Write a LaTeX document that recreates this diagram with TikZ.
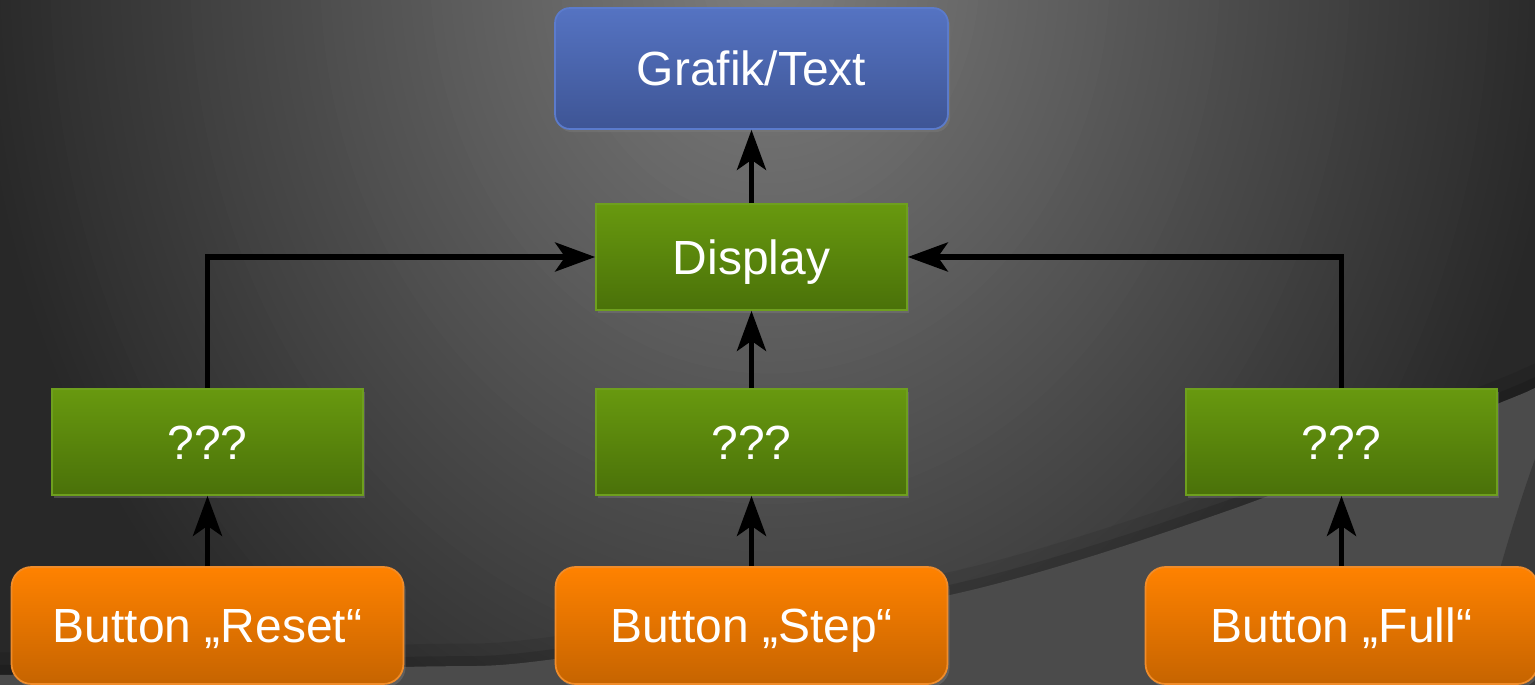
\documentclass[tikz,border=0pt]{standalone}
\usepackage{fontspec}
\setmainfont{Liberation Sans}
\usetikzlibrary{arrows.meta,shadows}
\definecolor{bgin}{HTML}{7E7E7E}
\definecolor{bgout}{HTML}{282828}
\definecolor{band}{HTML}{4B4B4B}
\definecolor{banddark}{HTML}{3A3A3A}
\definecolor{blueT}{HTML}{5573C2}
\definecolor{blueB}{HTML}{3E5595}
\definecolor{blueD}{HTML}{5B7BCC}
\definecolor{greenT}{HTML}{68990F}
\definecolor{greenB}{HTML}{4A7109}
\definecolor{greenD}{HTML}{6E9F1E}
\definecolor{orT}{HTML}{FF8200}
\definecolor{orB}{HTML}{C66400}
\definecolor{orD}{HTML}{F08C2A}
\begin{document}
\begin{tikzpicture}[x=0.02cm,y=-0.02cm,
  box/.style={font=\fontsize{27.3}{32}\selectfont, text=white, line width=1pt, inner sep=0pt,
    text height=19.5pt, text depth=0pt,
    drop shadow={shadow xshift=1.2pt, shadow yshift=-1.8pt, opacity=0.4}},
  bluebox/.style={box, rounded corners=0.3cm, top color=blueT, bottom color=blueB, draw=blueD,
    minimum width=7.86cm, minimum height=2.42cm},
  greenbox/.style={box, top color=greenT, bottom color=greenB, draw=greenD,
    minimum width=6.22cm, minimum height=2.12cm},
  orangebox/.style={box, rounded corners=0.4cm, top color=orT, bottom color=orB, draw=orD,
    minimum width=7.84cm, minimum height=2.34cm},
  arr/.style={line width=3.1pt, -{Stealth[length=0.8cm,width=0.58cm,inset=0.2cm]}}
]
\useasboundingbox (0,0) rectangle (1535,685);
\begin{scope}
  \clip (0,0) rectangle (1535,685);
  \fill[bgout] (0,0) rectangle (1535,685);
  \foreach \i in {0,...,79}{
    \pgfmathsetmacro\ff{1-\i/80}
    \pgfmathsetmacro\pp{100*\i/80}
    \fill[bgin!\pp!bgout] (770,-30) ellipse [x radius=\ff*16cm, y radius=\ff*19cm];
  }
  \draw[black, opacity=0.08, line width=0.9cm] plot[smooth] coordinates {(-20,676) (0,675) (405,667) (555,659) (950,595) (1230,510) (1497,404) (1535,388) (1560,377)};
  \draw[black, opacity=0.12, line width=0.4cm] plot[smooth] coordinates {(-20,676) (0,675) (405,667) (555,659) (950,595) (1230,510) (1497,404) (1535,388) (1560,377)};
  \fill[band] (-20,700) -- plot[smooth] coordinates {(-20,676) (0,675) (405,667) (555,659) (950,595) (1230,510) (1497,404) (1535,388) (1560,377)} -- (1560,700) -- cycle;
  \fill[banddark] (1540,445) .. controls (1518,505) and (1488,600) .. (1468,700) -- (1560,700) -- cycle;
\end{scope}

\node[bluebox] (grafik) at (751.5,68.5) {Grafik/Text};
\node[greenbox] (display) at (751.5,257) {Display};
\node[greenbox] (q1) at (207.5,442) {???};
\node[greenbox] (q2) at (751.5,442) {???};
\node[greenbox] (q3) at (1341.5,442) {???};
\node[orangebox] (b1) at (207.5,625.5) {Button „Reset“};
\node[orangebox] (b2) at (751.5,625.5) {Button „Step“};
\node[orangebox] (b3) at (1341.5,625.5) {Button „Full“};

\draw[arr] (display) -- (grafik);
\draw[arr] (q2) -- (display);
\draw[arr] (b1) -- (q1);
\draw[arr] (b2) -- (q2);
\draw[arr] (b3) -- (q3);
\draw[arr] (q1.north) |- (display.west);
\draw[arr] (q3.north) |- (display.east);
\end{tikzpicture}
\end{document}
